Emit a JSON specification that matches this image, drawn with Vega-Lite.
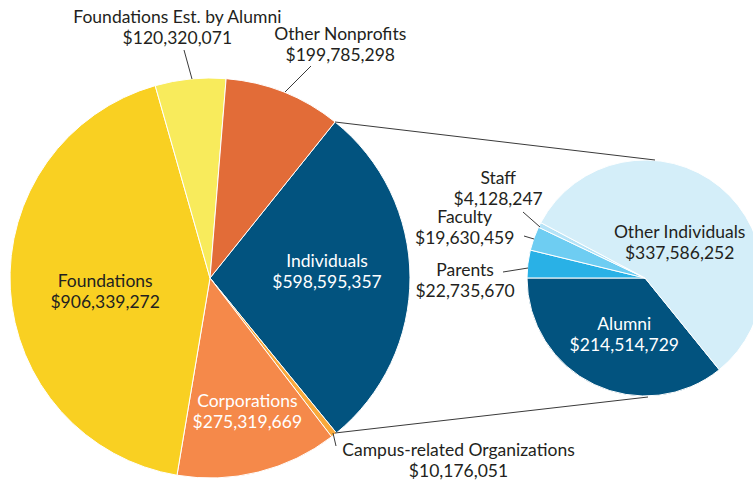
{
  "$schema": "https://vega.github.io/schema/vega-lite/v6.json",
  "width": 753,
  "height": 485,
  "padding": 0,
  "autosize": {"type": "none"},
  "background": "white",
  "config": {
    "view": {"stroke": null},
    "axis": {"disable": true},
    "text": {"font": "Lato", "fontSize": 17.5, "lineHeight": 21, "fill": "#231f20"}
  },
  "datasets": {
    "sources": [
      {"category": "Individuals", "amount": 598595357, "rank": 0},
      {"category": "Campus-related Organizations", "amount": 10176051, "rank": 1},
      {"category": "Corporations", "amount": 275319669, "rank": 2},
      {"category": "Foundations", "amount": 906339272, "rank": 3},
      {"category": "Foundations Est. by Alumni", "amount": 120320071, "rank": 4},
      {"category": "Other Nonprofits", "amount": 199785298, "rank": 5}
    ],
    "individuals": [
      {"category": "Alumni", "amount": 214514729, "rank": 0},
      {"category": "Parents", "amount": 22735670, "rank": 1},
      {"category": "Faculty", "amount": 19630459, "rank": 2},
      {"category": "Staff", "amount": 4128247, "rank": 3},
      {"category": "Other Individuals", "amount": 337586252, "rank": 4}
    ]
  },
  "layer": [
    {
      "data": {"name": "sources"},
      "encoding": {
        "x": {"datum": 210, "type": "quantitative", "scale": {"domain": [0, 753], "nice": false, "zero": false}, "axis": null},
        "y": {"datum": 278, "type": "quantitative", "scale": {"domain": [0, 485], "nice": false, "zero": false, "reverse": true}, "axis": null},
        "theta": {"field": "amount", "type": "quantitative", "stack": true, "scale": {"range": [0.6754, 6.9586]}},
        "order": {"field": "rank", "type": "quantitative"},
        "detail": {"field": "category", "type": "nominal"}
      },
      "layer": [
        {
          "mark": {"type": "arc", "outerRadius": 200, "stroke": "white", "strokeWidth": 1},
          "encoding": {
            "color": {"field": "category", "type": "nominal", "legend": null,
              "scale": {
                "domain": ["Individuals", "Campus-related Organizations", "Corporations", "Foundations", "Foundations Est. by Alumni", "Other Nonprofits", "Alumni", "Parents", "Faculty", "Staff", "Other Individuals"],
                "range": ["#02537f", "#f9a93b", "#f5894a", "#f9d022", "#f8eb5c", "#e26c38", "#02537f", "#29b1e6", "#6ecdf2", "#b6e3f7", "#d4eef9"]
              }}
          }
        },
        {"mark": {"type": "text", "radius": 117, "dy": -15, "fill": "white", "text": {"expr": "datum.category == 'Individuals' ? [datum.category, format(datum.amount, '$,d')] : ''"}}},
        {"mark": {"type": "text", "radius": 104, "dy": -2, "dx": -1, "text": {"expr": "datum.category == 'Foundations' ? [datum.category, format(datum.amount, '$,d')] : ''"}}},
        {"mark": {"type": "text", "radius": 138, "dx": 4, "dy": -10, "fill": "white", "text": {"expr": "datum.category == 'Corporations' ? [datum.category, format(datum.amount, '$,d')] : ''"}}},
        {"mark": {"type": "text", "radius": 251, "dx": -8, "dy": -10, "text": {"expr": "datum.category == 'Foundations Est. by Alumni' ? [datum.category, format(datum.amount, '$,d')] : ''"}}},
        {"mark": {"type": "text", "radius": 250, "dx": 38, "dy": -11, "text": {"expr": "datum.category == 'Other Nonprofits' ? [datum.category, format(datum.amount, '$,d')] : ''"}}},
        {"mark": {"type": "text", "radius": 233, "dx": 104, "dy": -10, "text": {"expr": "datum.category == 'Campus-related Organizations' ? [datum.category, format(datum.amount, '$,d')] : ''"}}}
      ]
    },
    {
      "data": {"name": "individuals"},
      "encoding": {
        "x": {"datum": 645, "type": "quantitative", "axis": null},
        "y": {"datum": 278, "type": "quantitative", "axis": null},
        "theta": {"field": "amount", "type": "quantitative", "stack": true, "scale": {"range": [2.461, 8.7442]}},
        "order": {"field": "rank", "type": "quantitative"},
        "detail": {"field": "category", "type": "nominal"}
      },
      "layer": [
        {
          "mark": {"type": "arc", "outerRadius": 118, "stroke": "white", "strokeWidth": 1},
          "encoding": {
            "color": {"field": "category", "type": "nominal", "legend": null,
              "scale": {
                "domain": ["Individuals", "Campus-related Organizations", "Corporations", "Foundations", "Foundations Est. by Alumni", "Other Nonprofits", "Alumni", "Parents", "Faculty", "Staff", "Other Individuals"],
                "range": ["#02537f", "#f9a93b", "#f5894a", "#f9d022", "#f8eb5c", "#e26c38", "#02537f", "#29b1e6", "#6ecdf2", "#b6e3f7", "#d4eef9"]
              }}
          }
        },
        {"mark": {"type": "text", "radius": 45, "dx": 6, "dy": -10, "text": {"expr": "datum.category == 'Other Individuals' ? [datum.category, format(datum.amount, '$,d')] : ''"}}},
        {"mark": {"type": "text", "radius": 62, "dx": 6, "dy": -9, "fill": "white", "text": {"expr": "datum.category == 'Alumni' ? [datum.category, format(datum.amount, '$,d')] : ''"}}},
        {"mark": {"type": "text", "radius": 150, "dx": -31, "dy": 11, "text": {"expr": "datum.category == 'Parents' ? [datum.category, format(datum.amount, '$,d')] : ''"}}},
        {"mark": {"type": "text", "radius": 150, "dx": -39, "dy": -10, "text": {"expr": "datum.category == 'Faculty' ? [datum.category, format(datum.amount, '$,d')] : ''"}}},
        {"mark": {"type": "text", "radius": 170, "dx": 5, "dy": -23, "text": {"expr": "datum.category == 'Staff' ? [datum.category, format(datum.amount, '$,d')] : ''"}}}
      ]
    },
    {
      "data": {"name": "sources"},
      "transform": [{"filter": "datum.category == 'Individuals'"}],
      "mark": {"type": "rule", "color": "#3a3a3a", "strokeWidth": 1},
      "encoding": {
        "x": {"datum": 335, "type": "quantitative", "axis": null},
        "y": {"datum": 122, "type": "quantitative", "axis": null},
        "x2": {"datum": 655},
        "y2": {"datum": 160}
      }
    },
    {
      "data": {"name": "sources"},
      "transform": [{"filter": "datum.category == 'Individuals'"}],
      "mark": {"type": "rule", "color": "#3a3a3a", "strokeWidth": 1},
      "encoding": {
        "x": {"datum": 335, "type": "quantitative", "axis": null},
        "y": {"datum": 433, "type": "quantitative", "axis": null},
        "x2": {"datum": 648},
        "y2": {"datum": 397}
      }
    },
    {
      "data": {"name": "sources"},
      "transform": [{"filter": "datum.category == 'Foundations Est. by Alumni'"}],
      "mark": {"type": "rule", "color": "#3a3a3a", "strokeWidth": 1},
      "encoding": {
        "x": {"datum": 184, "type": "quantitative", "axis": null},
        "y": {"datum": 50, "type": "quantitative", "axis": null},
        "x2": {"datum": 192},
        "y2": {"datum": 79}
      }
    },
    {
      "data": {"name": "sources"},
      "transform": [{"filter": "datum.category == 'Other Nonprofits'"}],
      "mark": {"type": "rule", "color": "#3a3a3a", "strokeWidth": 1},
      "encoding": {
        "x": {"datum": 311, "type": "quantitative", "axis": null},
        "y": {"datum": 66, "type": "quantitative", "axis": null},
        "x2": {"datum": 285},
        "y2": {"datum": 92}
      }
    },
    {
      "data": {"name": "sources"},
      "transform": [{"filter": "datum.category == 'Campus-related Organizations'"}],
      "mark": {"type": "rule", "color": "#3a3a3a", "strokeWidth": 1},
      "encoding": {
        "x": {"datum": 333, "type": "quantitative", "axis": null},
        "y": {"datum": 433, "type": "quantitative", "axis": null},
        "x2": {"datum": 336},
        "y2": {"datum": 446}
      }
    },
    {
      "data": {"name": "individuals"},
      "transform": [{"filter": "datum.category == 'Staff'"}],
      "mark": {"type": "rule", "color": "#3a3a3a", "strokeWidth": 1},
      "encoding": {
        "x": {"datum": 523, "type": "quantitative", "axis": null},
        "y": {"datum": 212, "type": "quantitative", "axis": null},
        "x2": {"datum": 540},
        "y2": {"datum": 227}
      }
    },
    {
      "data": {"name": "individuals"},
      "transform": [{"filter": "datum.category == 'Faculty'"}],
      "mark": {"type": "rule", "color": "#3a3a3a", "strokeWidth": 1},
      "encoding": {
        "x": {"datum": 524, "type": "quantitative", "axis": null},
        "y": {"datum": 236, "type": "quantitative", "axis": null},
        "x2": {"datum": 534},
        "y2": {"datum": 239}
      }
    },
    {
      "data": {"name": "individuals"},
      "transform": [{"filter": "datum.category == 'Parents'"}],
      "mark": {"type": "rule", "color": "#3a3a3a", "strokeWidth": 1},
      "encoding": {
        "x": {"datum": 503, "type": "quantitative", "axis": null},
        "y": {"datum": 272, "type": "quantitative", "axis": null},
        "x2": {"datum": 528},
        "y2": {"datum": 268}
      }
    }
  ],
  "resolve": {"scale": {"theta": "independent"}}
}
